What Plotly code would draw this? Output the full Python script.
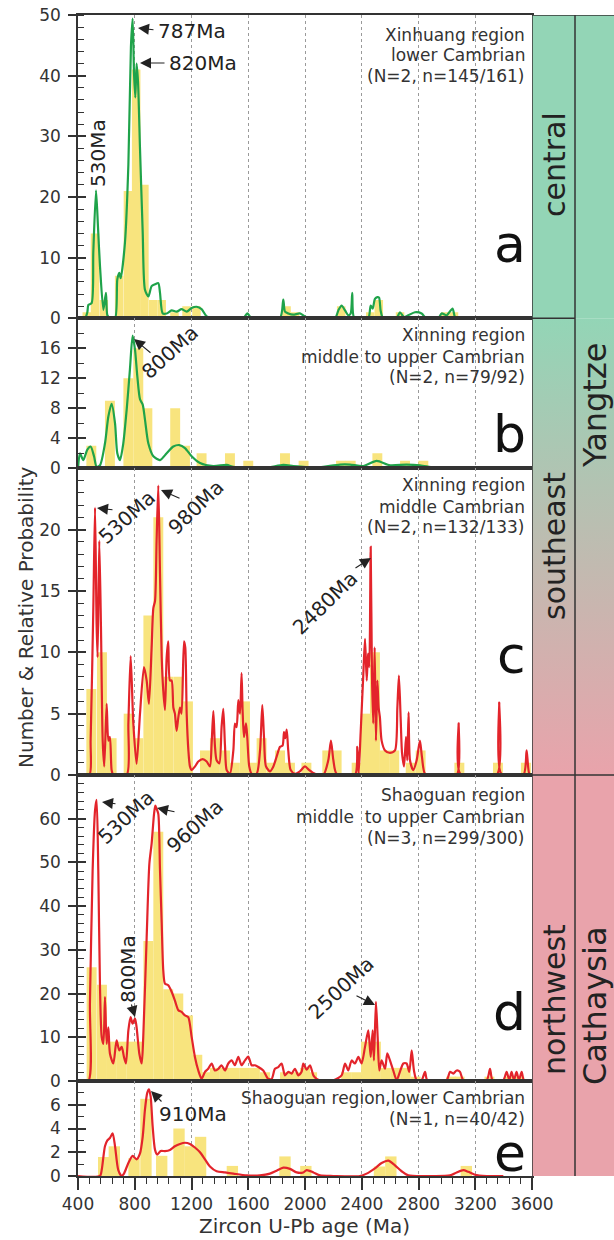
import plotly.graph_objects as go

# ---------------- data ----------------
# Panel a: Xinhuang region, lower Cambrian
a_age = [400, 449, 466, 473, 496, 508, 527, 541, 555, 579, 597, 607, 625, 661, 677, 691, 701, 731, 755, 773,
         785, 795, 804, 813, 823, 837, 856, 872, 896, 919, 943, 966, 978, 997, 1025, 1060, 1095, 1130, 1166,
         1201, 1236, 1271, 1307, 1354, 1565, 1593, 1624, 1823, 1847, 1859, 1882, 1917, 1964, 2000, 2030,
         2211, 2235, 2258, 2282, 2305, 2322, 2333, 2345, 2387, 2446, 2463, 2477, 2493, 2510, 2522, 2533,
         2547, 2600, 2646, 2669, 2698, 2728, 2775, 2822, 2853, 2939, 2963, 2998, 3040, 3057, 3080, 3205]
a_prob = [0, 0, 1.0, 2.2, 2.5, 11, 21.1, 15, 8.6, 1.4, 4.2, 0.5, 0, 0, 6.4, 7.5, 6.6, 12.5, 25.3, 44.7,
          49.4, 40.3, 36.4, 42, 39, 28, 14.2, 4.7, 3.6, 5.3, 5.6, 5.8, 4.2, 0.8, 0.8, 1.3, 1.1, 1.5, 1.1,
          1.7, 1.9, 1.5, 0.3, 0, 0, 0.8, 0, 0, 3.1, 1.1, 0.8, 0.6, 0.8, 0.3, 0,
          0, 1.3, 2.1, 1.3, 0.5, 0.8, 4.2, 0.2, 0, 0, 2.1, 1.6, 3.2, 3.5, 3.4, 1.3,
          0.2, 0, 0, 1.0, 0.2, 0.5, 1.0, 0.8, 0, 0, 0.8, 0.5, 1.6, 0.2, 0, 0]
a_bin = [462, 520, 582, 690, 752, 810, 868, 930, 990, 1080, 1165, 1235, 1870, 1930, 2255, 2460, 2520,
         2670, 2990, 3050]
a_count = [1, 14, 3, 7, 21, 41, 22, 3, 3, 1, 2, 2, 2, 1, 2, 1, 3, 1, 1, 1]

# Panel b: Xinning region, middle to upper Cambrian
b_age = [400, 414, 437, 466, 489, 513, 531, 555, 590, 614, 637, 661, 677, 696, 719, 743, 766, 785, 802,
         818, 837, 856, 872, 896, 931, 978, 1025, 1072, 1114, 1154, 1201, 1260, 1354, 1448, 1495, 1589,
         1730, 1847, 1917, 1988, 2082, 2247, 2317, 2411, 2505, 2599, 2716, 2810, 2904, 2998]
b_prob = [0, 2.0, 1.1, 2.5, 2.9, 1.6, 0.2, 0.4, 3.3, 6.9, 8.6, 6.0, 2.0, 1.1, 3.3, 7.8, 13.2, 17.7, 15.8,
          12.3, 9.2, 8.5, 6.5, 3.3, 1.6, 1.1, 2.0, 2.9, 3.1, 2.7, 1.6, 0.7, 0.3, 0.45, 0.2, 0.1,
          0.05, 0.45, 0.3, 0.2, 0.1, 0.5, 0.5, 0.3, 1.0, 0.4, 0.5, 0.4, 0.1, 0]
b_bin = [494, 625, 755, 825, 889, 1085, 1154, 1271, 1471, 1600, 1859, 1990, 2254, 2322, 2510, 2705, 2834]
b_count = [3, 9, 12, 16, 8, 8, 3, 2, 2, 1, 2, 1, 1, 1, 2, 1, 1]

# Panel c: Xinning region, middle Cambrian
c_age = [400, 480, 489, 508, 520, 531, 538, 550, 562, 574, 585, 602, 614, 625, 637, 649, 743, 755, 771,
         790, 813, 837, 865, 884, 900, 919, 931, 943, 954, 966, 978, 990, 1001, 1013, 1025, 1036, 1048,
         1060, 1072, 1083, 1095, 1107, 1119, 1130, 1147, 1156, 1166, 1178, 1189, 1201, 1225, 1248, 1279,
         1307, 1330, 1342, 1354, 1365, 1377, 1396, 1412, 1424, 1436, 1448, 1471, 1495, 1506, 1518, 1530,
         1542, 1553, 1560, 1570, 1584, 1593, 1607, 1624, 1659, 1683, 1699, 1711, 1725, 1753, 1777, 1800,
         1824, 1842, 1852, 1861, 1871, 1882, 1899, 1929, 1964, 2000, 2030, 2070, 2129, 2164, 2183, 2200,
         2223, 2352, 2369, 2378, 2392, 2411, 2423, 2435, 2444, 2453, 2463, 2472, 2481, 2491, 2500, 2510,
         2519, 2528, 2540, 2564, 2599, 2634, 2651, 2662, 2674, 2684, 2698, 2712, 2721, 2730, 2740, 2763,
         2787, 2810, 2824, 2846, 2904, 3069, 3083, 3095, 3351, 3369, 3384, 3539, 3562, 3581, 3600]
c_prob = [0, 0, 2.8, 13.6, 21.8, 12.3, 9.6, 19.1, 12.0, 2.8, 0.7, 5.8, 2.8, 3.1, 0.4, 0, 0, 4.2, 9.7,
          4.2, 0.9, 5.0, 8.8, 7.7, 5.8, 10.4, 13.6, 14.2, 19.1, 23.6, 16.4, 9.6, 6.9, 5.3, 9.6, 10.9, 7.7,
          7.7, 5.5, 5.0, 3.6, 4.7, 5.5, 5.0, 10.9, 10.4, 5.0, 2.0, 0.7, 0.4, 0.7, 1.1, 1.3,
          1.1, 0.7, 2.6, 5.2, 2.4, 1.2, 0.95, 3.9, 5.4, 2.4, 0.4, 0.1, 2.0, 4.2, 3.9, 6.1,
          5.0, 8.3, 5.3, 3.1, 4.2, 3.1, 0.7, 0.1, 0.1, 2.0, 5.7, 3.1, 0.7, 0.3, 0.7, 1.5,
          2.3, 2.4, 3.5, 3.0, 3.7, 2.0, 0.4, 0.1, 0.3, 0.7, 0.4, 0.1, 0, 1.2, 2.8, 1.2,
          0.1, 0, 2.3, 0.1, 3.4, 8.2, 11.1, 7.7, 9.9, 8.8, 18.6, 8.2, 4.2, 10.4, 2.8, 7.7,
          5.5, 4.7, 2.8, 2.0, 1.8, 2.0, 5.5, 8.1, 4.7, 1.8, 0.7, 3.1, 1.2, 5.1, 1.2, 0.4,
          1.2, 2.8, 1.5, 0.1, 0, 0, 4.2, 0.1, 0, 5.9, 0.1, 0, 2.0, 0.1, 0]
c_bin = [494, 569, 637, 757, 825, 896, 966, 1036, 1107, 1175, 1295, 1365, 1436, 1506, 1577, 1636, 1694,
         1765, 1824, 1894, 2010, 2157, 2223, 2364, 2427, 2493, 2561, 2629, 2745, 2815, 3088, 3360, 3557]
c_count = [7, 10, 3, 5, 3, 13, 21, 8, 8, 6, 2, 3, 2, 1, 6, 1, 3, 1, 2, 1, 1, 2, 2, 1, 5, 10, 2, 2, 1, 2,
           1, 1, 1]

# Panel d: Shaoguan region, middle to upper Cambrian
d_age = [400, 473, 484, 503, 520, 531, 543, 555, 567, 579, 590, 602, 614, 625, 649, 672, 691, 708, 724,
         738, 755, 771, 785, 802, 813, 832, 849, 860, 884, 903, 919, 936, 945, 954, 966, 978, 990, 1001,
         1013, 1036, 1060, 1083, 1107, 1130, 1154, 1177, 1201, 1224, 1248, 1271, 1295, 1318, 1342, 1365,
         1389, 1412, 1436, 1459, 1483, 1506, 1530, 1553, 1577, 1600, 1624, 1647, 1671, 1706, 1741, 1765,
         1788, 1812, 1835, 1859, 1882, 1906, 1929, 1953, 1976, 1988, 2012, 2035, 2059, 2082, 2106, 2200,
         2258, 2282, 2305, 2329, 2352, 2376, 2399, 2423, 2446, 2463, 2477, 2486, 2500, 2512, 2524, 2540,
         2564, 2580, 2599, 2622, 2646, 2669, 2693, 2716, 2735, 2752, 2768, 2787, 2822, 2846, 2862, 2998,
         3022, 3045, 3069, 3092, 3116, 3280, 3304, 3322, 3398, 3421, 3440, 3456, 3473, 3491, 3508, 3527,
         3543, 3585]
d_prob = [0, 0, 17.7, 48, 61.9, 64.3, 48.2, 21.5, 10.1, 8.5, 19.2, 8.5, 12.3, 6.3, 4.0, 9.3, 7.0, 7.8, 5.5,
          4.0, 11.6, 14.6, 13.1, 14.3, 12.3, 6.3, 4.0, 10.1, 32.9, 49.7, 54.3, 61.1, 63.0, 62.3, 61.1, 48.2,
          36.0, 25.3, 22.3, 21.9, 20.4, 18.4, 16.2, 15.8, 15.0, 14.6, 10.1, 5.5, 2.4, 0.5, 2.1, 2.8, 4.0,
          2.4, 2.8, 3.6, 2.4, 4.0, 4.7, 3.6, 5.5, 3.6, 4.7, 5.6, 3.6, 3.6, 3.2, 2.4, 0.5, 0.5,
          2.8, 3.2, 4.0, 1.3, 2.1, 1.7, 2.8, 1.3, 2.1, 4.0, 2.6, 3.6, 1.3, 0.5, 0.15, 0.15,
          1.3, 4.0, 2.4, 4.7, 4.0, 5.5, 4.0, 7.8, 11.6, 5.5, 11.6, 4.7, 18.1, 10.1, 2.4, 4.7,
          2.8, 6.3, 4.7, 2.4, 0.2, 2.1, 4.0, 4.0, 2.1, 7.0, 2.4, 0.2, 0.2, 2.1, 0.2, 0.2,
          2.1, 1.7, 2.4, 2.1, 0.2, 0.2, 2.8, 0.2, 0.2, 2.1, 0.2, 2.1, 0.2, 2.1, 0.2, 2.1,
          0.2, 0]
d_bin = [496, 569, 637, 705, 775, 830, 896, 966, 1036, 1107, 1175, 1241, 1300, 1365, 1436, 1506, 1577,
         1647, 1718, 1859, 1929, 2000, 2050, 2290, 2360, 2430, 2500, 2570, 2640, 2710, 2780, 3030, 3090,
         3300, 3440, 3510]
d_count = [26, 22, 9, 9, 9, 9, 32, 57, 21, 20, 15, 6, 2, 3, 3, 3, 3, 3, 2, 2, 2, 3, 2, 2, 2, 9, 9, 3, 3,
           3, 1, 1, 1, 1, 1, 1]

# Panel e: Shaoguan region, lower Cambrian
e_age = [400, 555, 567, 590, 607, 625, 644, 661, 684, 708, 724, 755, 785, 813, 837, 856, 872, 888, 900,
         912, 926, 943, 959, 982, 1013, 1048, 1083, 1119, 1154, 1189, 1224, 1260, 1295, 1330, 1377, 1436,
         1495, 1589, 1682, 1753, 1800, 1847, 1894, 1941, 1988, 2012, 2059, 2106, 2200, 2387, 2434, 2493,
         2540, 2587, 2634, 2681, 2728, 2904, 3022, 3069, 3116, 3151, 3198, 3280, 3398]
e_prob = [0, 0, 0.5, 2.5, 3.0, 3.2, 3.6, 2.5, 0.5, 0, 0.2, 1.1, 1.7, 1.4, 1.9, 3.3, 5.6, 7.0, 7.3,
          6.7, 4.2, 2.2, 1.8, 2.1, 2.1, 2.2, 2.5, 2.7, 2.8, 2.7, 2.4, 2.0, 1.4, 0.8, 0.4, 0.3,
          0.2, 0.05, 0.05, 0.2, 0.45, 0.7, 0.6, 0.3, 0.3, 0.5, 0.3, 0.05, 0, 0, 0.2, 0.65,
          1.1, 1.3, 0.9, 0.4, 0.05, 0, 0.05, 0.3, 0.5, 0.35, 0.1, 0, 0]
e_bin = [581, 656, 795, 879, 990, 1112, 1190, 1264, 1488, 1859, 2006, 2525, 2605, 3137]
e_count = [1.6, 2.5, 1.5, 6.5, 1.7, 4.0, 2.5, 3.3, 0.85, 1.65, 0.85, 0.8, 1.65, 0.85]

x_ticks = [400, 800, 1200, 1600, 2000, 2400, 2800, 3200, 3600]

# ---------------- styling / geometry ----------------
FF = "DejaVu Sans"
LC = "#333333"
GRID = "#9a9a9a"
YEL = "#f8e47e"
GREEN_LINE = "#1fa34a"
RED_LINE = "#e3242b"
BAND_GREEN = "#93d5b6"
BAND_PINK = "#e9a3ab"

W, H = 614, 1240
ML, MT, MB = 78, 15, 64
PW = W - ML          # plot-area width (r margin 0)
PH = H - MT - MB     # plot-area height
YB = MT + PH         # bottom pixel of plot area
XD = 454 / PW        # x domain end for panels


def px(xp):
    return (xp - ML) / PW


def py(yp):
    return (YB - yp) / PH


panels = [
    dict(top=15, bot=318.3, ymax=50, tv=[0, 10, 20, 30, 40, 50], md=2, col=GREEN_LINE,
         age=a_age, prob=a_prob, bins=a_bin, cnt=a_count, bw=60),
    dict(top=318.3, bot=468.3, ymax=20, tv=[0, 4, 8, 12, 16], md=2, col=GREEN_LINE,
         age=b_age, prob=b_prob, bins=b_bin, cnt=b_count, bw=70),
    dict(top=468.3, bot=775, ymax=25, tv=[0, 5, 10, 15, 20], md=1, col=RED_LINE,
         age=c_age, prob=c_prob, bins=c_bin, cnt=c_count, bw=70),
    dict(top=775, bot=1081, ymax=70, tv=[0, 10, 20, 30, 40, 50, 60], md=2, col=RED_LINE,
         age=d_age, prob=d_prob, bins=d_bin, cnt=d_count, bw=70),
    dict(top=1081, bot=1176, ymax=8, tv=[0, 2, 4, 6], md=1, col=RED_LINE,
         age=e_age, prob=e_prob, bins=e_bin, cnt=e_count, bw=80),
]

fig = go.Figure()
layout = dict(width=W, height=H, autosize=False,
              margin=dict(l=ML, r=0, t=MT, b=MB, autoexpand=False),
              paper_bgcolor="white", plot_bgcolor="white", showlegend=False,
              font=dict(family=FF, color=LC), hovermode=False)

tickfont = dict(family=FF, size=17, color=LC)

for i, p in enumerate(panels, start=1):
    sfx = "" if i == 1 else str(i)
    fig.add_trace(go.Bar(x=p["bins"], y=p["cnt"], width=p["bw"],
                         marker=dict(color=YEL, line=dict(width=0)),
                         xaxis="x" + sfx, yaxis="y" + sfx))
    fig.add_trace(go.Scatter(x=p["age"], y=p["prob"], mode="lines",
                             line=dict(color=p["col"], width=2.2, shape="spline", smoothing=0.7),
                             xaxis="x" + sfx, yaxis="y" + sfx))
    dom = [py(p["bot"]), py(p["top"])]
    xa = dict(domain=[0, XD], range=[400, 3600], anchor="y" + sfx, showline=True, mirror=True,
              linecolor=LC, linewidth=1.5, showgrid=True, gridcolor=GRID, griddash="dot",
              gridwidth=1, tickmode="array", tickvals=x_ticks, zeroline=False, automargin=False)
    if i < 5:
        xa.update(showticklabels=False, ticks="")
    else:
        xa.update(ticks="outside", ticklen=12, tickwidth=1.5, tickcolor=LC, tickfont=tickfont,
                  minor=dict(tickmode="linear", tick0=400, dtick=80, ticks="outside", ticklen=6,
                             tickwidth=1.2, tickcolor=LC, showgrid=False))
    ya = dict(domain=dom, range=[0, p["ymax"]], anchor="x" + sfx, showline=True, mirror=True,
              linecolor=LC, linewidth=1.5, showgrid=False, zeroline=False, tickmode="array",
              tickvals=p["tv"], ticks="outside", ticklen=8, tickwidth=1.5, tickcolor=LC,
              tickfont=tickfont, ticklabelstandoff=4, automargin=False,
              minor=dict(tickmode="linear", tick0=0, dtick=p["md"], ticks="inside", ticklen=6,
                         tickwidth=1.2, tickcolor=LC, showgrid=False))
    layout["xaxis" + sfx] = xa
    layout["yaxis" + sfx] = ya
    # overlay axis providing the inner half of the crossing major ticks
    oy = str(i + 5)
    layout["yaxis" + oy] = dict(overlaying="y" + sfx, anchor="x" + sfx, side="left",
                                range=[0, p["ymax"]], tickmode="array", tickvals=p["tv"],
                                ticks="inside", ticklen=8, tickwidth=1.5, tickcolor=LC,
                                showticklabels=False, showgrid=False, zeroline=False,
                                showline=False, automargin=False)
    fig.add_trace(go.Scatter(x=[1000], y=[0], mode="markers", marker=dict(opacity=0),
                             xaxis="x" + sfx, yaxis="y" + oy, hoverinfo="skip"))

# side band (tectonic units) on its own pixel-like axes
layout["xaxis11"] = dict(domain=[XD, 1], range=[532, 614], visible=False, anchor="y11",
                         automargin=False)
layout["yaxis11"] = dict(domain=[0, 1], range=[YB, MT], visible=False, anchor="x11",
                         automargin=False)
fig.add_trace(go.Scatter(x=[532, 614, 614, 532, 532], y=[318.3, 318.3, 775, 775, 318.3],
                         xaxis="x11", yaxis="y11", mode="lines", line=dict(width=0),
                         fill="toself",
                         fillgradient=dict(type="vertical", start=318.3, stop=775,
                                           colorscale=[[0, BAND_GREEN], [1, BAND_PINK]]),
                         hoverinfo="skip"))

shapes = [
    dict(type="rect", xref="x11", yref="y11", x0=532, x1=614, y0=MT, y1=318.3,
         fillcolor=BAND_GREEN, line=dict(width=0), layer="below"),
    dict(type="rect", xref="x11", yref="y11", x0=532, x1=614, y0=775, y1=YB,
         fillcolor=BAND_PINK, line=dict(width=0), layer="below"),
]
for (x0, y0, x1, y1) in [(532, MT, 614, MT), (575, MT, 575, YB), (532, 318.3, 575, 318.3),
                         (532, 775, 614, 775), (532, MT, 532, YB)]:
    shapes.append(dict(type="line", xref="x11", yref="y11", x0=x0, y0=y0, x1=x1, y1=y1,
                       line=dict(color=LC, width=1.5)))
layout["shapes"] = shapes

# ---------------- text ----------------
ann = []


def text(xp, yp, t, size, angle=0, xanchor="center", yanchor="middle", color="#222222",
         height=None):
    a = dict(x=px(xp), y=py(yp), xref="paper", yref="paper", text=t, showarrow=False,
             font=dict(family=FF, size=size, color=color), textangle=angle,
             xanchor=xanchor, yanchor=yanchor)
    if height is not None:
        a["height"] = height
    ann.append(a)


def arrow(tip, tail):
    ann.append(dict(x=px(tip[0]), y=py(tip[1]), xref="paper", yref="paper", text="",
                    showarrow=True, axref="pixel", ayref="pixel",
                    ax=tail[0] - tip[0], ay=tail[1] - tip[1], arrowhead=2, arrowsize=2.0,
                    arrowwidth=1.1, arrowcolor="#222222", standoff=0, startstandoff=0))


# panel descriptions
info = [
    [("Xinhuang region", 35), ("lower Cambrian", 55), ("(N=2, n=145/161)", 76)],
    [("Xinning region", 335), ("middle to upper Cambrian", 357), ("(N=2, n=79/92)", 377)],
    [("Xinning region", 485), ("middle Cambrian", 507), ("(N=2, n=132/133)", 527)],
    [("Shaoguan region", 795), ("middle  to upper Cambrian", 817), ("(N=3, n=299/300)", 838)],
    [("Shaoguan region,lower Cambrian", 1098), ("(N=1, n=40/42)", 1119)],
]
for lines in info:
    for t, yp in lines:
        text(527, yp, t, 17, xanchor="right", color="#333333")

# panel letters
for letter, yc, hh in zip(["a", "b", "c", "d", "e"], [244, 434, 655, 1012, 1153],
                          [None, None, None, None, 44]):
    text(528, yc, letter, 52, xanchor="right", color="#111111", height=hh)

# peak labels
text(156, 31, "787Ma", 20, xanchor="left")
text(167, 63, "820Ma", 20, xanchor="left")
text(98, 153, "530Ma", 20, angle=-90)
text(170, 352, "800Ma", 20, angle=-42)
text(127, 517, "530Ma", 20, angle=-42)
text(196, 507, "980Ma", 20, angle=-44)
text(325, 603, "2480Ma", 20, angle=-44)
text(126, 817, "530Ma", 20, angle=-43)
text(195, 826, "960Ma", 20, angle=-42)
text(128, 969, "800Ma", 20, angle=-90)
text(341, 988, "2500Ma", 20, angle=-43)
text(157, 1114, "910Ma", 20, xanchor="left")

arrow((138, 28), (155, 30))
arrow((140, 63), (166, 63))
arrow((134, 339), (152, 354))
arrow((97, 508), (114, 510))
arrow((161, 490), (181, 499))
arrow((371, 558), (354, 569))
arrow((102, 802), (117, 804))
arrow((157, 808), (176, 812))
arrow((135, 1017), (131, 1003))
arrow((375, 1005), (355, 995))
arrow((151, 1091), (163, 1103))

# tectonic unit labels
text(554, 165, "central", 30, angle=-90)
text(554, 546, "southeast", 30, angle=-90)
text(554, 1000, "northwest", 30, angle=-90)
text(595, 406, "Yangtze", 32, angle=-90)
text(595, 1006, "Cathaysia", 32, angle=-90)

# axis titles
text(26, 617, "Number &amp; Relative Probability", 20, angle=-90, color="#333333")
text(304, 1226, "Zircon U-Pb age (Ma)", 20, color="#333333")

layout["annotations"] = ann
fig.update_layout(**layout)
fig.write_html(
    "out.html",
    config={"responsive": False, "displayModeBar": False},
    post_script=("document.body.style.margin='0';"
                 "document.body.style.padding='0';"
                 "document.body.style.overflow='hidden';"
                 "document.documentElement.style.overflow='hidden';"),
)
